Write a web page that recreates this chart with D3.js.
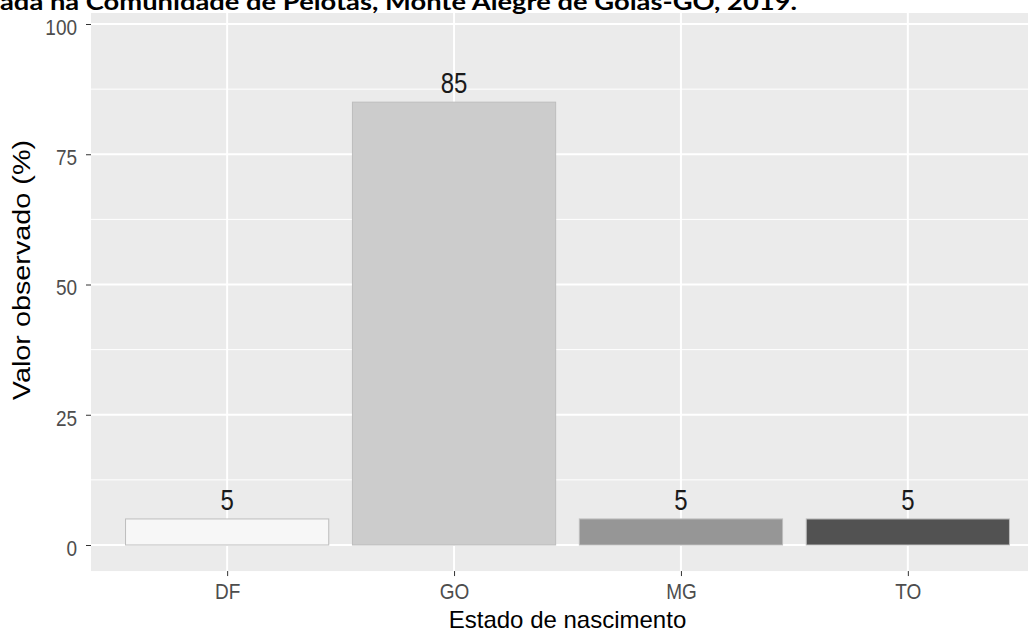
<!DOCTYPE html>
<html><head><meta charset="utf-8">
<script src="https://cdn.jsdelivr.net/npm/d3@7"></script>
<style>html,body{margin:0;padding:0;background:#fff;overflow:hidden}</style>
</head><body>
<svg id="c" width="1028" height="632"></svg>
<script>
const categories = ["DF", "GO", "MG", "TO"];
const values = [5, 85, 5, 5];
const fills = ["#F7F7F7", "#CCCCCC", "#969696", "#525252"];
const yTicks = [0, 25, 50, 75, 100];
const yMinor = [12.5, 37.5, 62.5, 87.5];
const titleText = "ada na Comunidade de Pelotas, Monte Alegre de Goiás-GO, 2019.";
const xTitle = "Estado de nascimento";
const yTitle = "Valor observado (%)";

const svg = d3.select("#c");
const panelLeft = 91, panelRight = 1044;
const n = categories.length;
const unit = (panelRight - panelLeft) / (n - 1 + 1.2);
const xc = d3.scalePoint().domain(categories)
  .range([panelLeft + 0.6 * unit, panelRight - 0.6 * unit]);
const y = d3.scaleLinear().domain([0, 100]).range([545, 24]);
const panelTop = y(105), panelBottom = y(-5);

const font = "'Liberation Sans', Arial, sans-serif";
const stretch = 1.2;

svg.append("rect").attr("x", panelLeft).attr("y", panelTop)
  .attr("width", panelRight - panelLeft).attr("height", panelBottom - panelTop)
  .attr("fill", "#EBEBEB");

svg.append("g").selectAll("line").data(yMinor).join("line")
  .attr("x1", panelLeft).attr("x2", panelRight)
  .attr("y1", d => y(d)).attr("y2", d => y(d))
  .attr("stroke", "#fff").attr("stroke-width", 1);
svg.append("g").selectAll("line").data(yTicks).join("line")
  .attr("x1", panelLeft).attr("x2", panelRight)
  .attr("y1", d => y(d)).attr("y2", d => y(d))
  .attr("stroke", "#fff").attr("stroke-width", 2);
svg.append("g").selectAll("line").data(categories).join("line")
  .attr("y1", panelTop).attr("y2", panelBottom)
  .attr("x1", d => xc(d)).attr("x2", d => xc(d))
  .attr("stroke", "#fff").attr("stroke-width", 2);

// bars
const bw = 0.9 * unit;
svg.append("g").selectAll("rect").data(categories).join("rect")
  .attr("x", d => xc(d) - bw / 2 + 0.5)
  .attr("width", bw - 1)
  .attr("y", (d, i) => y(values[i]))
  .attr("height", (d, i) => y(0) - y(values[i]))
  .attr("fill", (d, i) => fills[i])
  .attr("stroke", "#BDBDBD").attr("stroke-width", 1);

// bar labels
svg.append("g").selectAll("text").data(categories).join("text")
  .attr("transform", (d, i) => `translate(${xc(d)},${y(values[i]) - 9}) scale(1,${stretch})`)
  .attr("text-anchor", "middle")
  .attr("font-family", font).attr("font-size", 24)
  .attr("fill", "#1a1a1a")
  .text((d, i) => values[i]);

// y axis
const yAxis = d3.axisLeft(y).tickValues(yTicks).tickSize(5).tickPadding(9);
const gy = svg.append("g").attr("transform", `translate(${panelLeft},0)`).call(yAxis);
gy.select(".domain").remove();
gy.selectAll(".tick line").attr("stroke", "#333").attr("stroke-width", 1);
gy.selectAll(".tick text").attr("font-family", font).attr("font-size", 19)
  .attr("fill", "#4D4D4D").attr("dy", "0.45em")
  .attr("transform", `scale(1,${stretch})`);

// x axis
const xAxis = d3.axisBottom(xc).tickSize(5).tickPadding(5);
const gx = svg.append("g").attr("transform", `translate(0,${panelBottom})`).call(xAxis);
gx.select(".domain").remove();
gx.selectAll(".tick line").attr("stroke", "#333").attr("stroke-width", 1);
gx.selectAll(".tick text").attr("font-family", font).attr("font-size", 19)
  .attr("fill", "#4D4D4D").attr("dy", 0).attr("y", 28 / stretch)
  .attr("transform", `scale(1,${stretch})`);

// axis titles
svg.append("text")
  .attr("x", (panelLeft + panelRight) / 2).attr("y", 628)
  .attr("text-anchor", "middle").attr("font-family", font).attr("font-size", 24)
  .attr("fill", "#000").text(xTitle);
svg.append("text")
  .attr("transform", `translate(30,270) rotate(-90) scale(${stretch},1)`)
  .attr("text-anchor", "middle").attr("font-family", font).attr("font-size", 24)
  .attr("fill", "#000").text(yTitle);

// title strip (cropped document caption)
svg.append("rect").attr("x", 0).attr("y", 0).attr("width", 1028).attr("height", 13)
  .attr("fill", "#fff");
svg.append("text").attr("x", 0).attr("y", 10)
  .attr("font-family", "Lato, 'Open Sans', sans-serif").attr("font-weight", "bold")
  .attr("font-size", 22).attr("textLength", 797).attr("lengthAdjust", "spacingAndGlyphs")
  .attr("fill", "#000").text(titleText);
</script>
</body></html>
